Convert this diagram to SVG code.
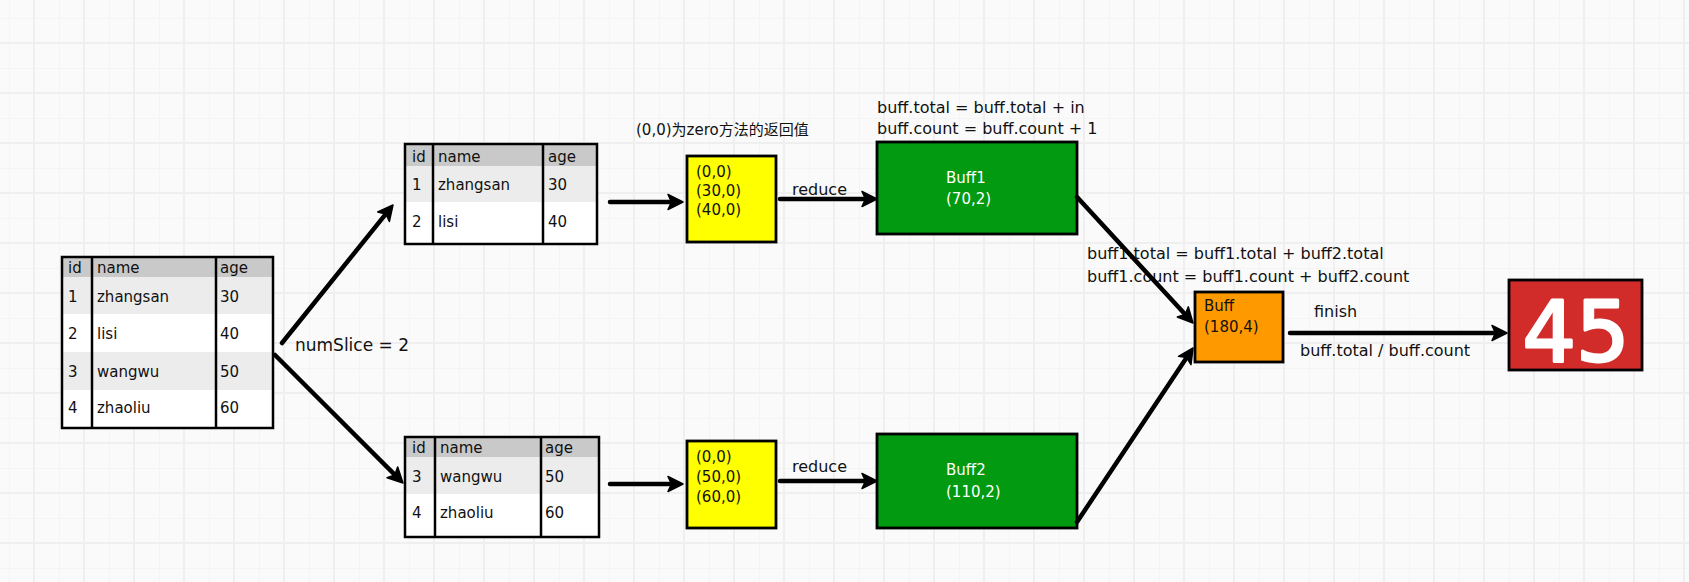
<svg xmlns="http://www.w3.org/2000/svg" width="1689" height="582" viewBox="0 0 1689 582">
<defs>
<pattern id="grid" x="9" y="18" width="50" height="50" patternUnits="userSpaceOnUse">
<rect width="50" height="50" fill="#fafafa"/>
<path d="M0,0 V50 M0,0 H50" stroke="#f3f3f3" stroke-width="1.5" fill="none"/>
<path d="M25,0 V50 M0,25 H50" stroke="#efefef" stroke-width="2" fill="none"/>
</pattern>
<marker id="ah" viewBox="0 0 18 18" markerWidth="18" markerHeight="18" refX="6" refY="9" orient="auto" markerUnits="userSpaceOnUse">
<path d="M1,1.5 L16,9 L1,16.5 L4.5,9 z" fill="#000" stroke="#000" stroke-width="1.5" stroke-linejoin="round"/>
</marker>
<style>
.t{font-family:"DejaVu Sans","Noto Sans CJK SC",sans-serif;fill:#111;}
.tb{font-family:"DejaVu Sans",sans-serif;font-size:15px;fill:#111;}
.w{fill:#ffffff;}
.hdr{fill:#c9c9c9;}
.alt{fill:#ececec;}
.wht{fill:#ffffff;}
.frame{fill:none;stroke:#000;stroke-width:2.5;}
.div{stroke:#000;stroke-width:2.5;}
.box{stroke:#000;stroke-width:2.8;}
.arrow{stroke:#000;stroke-width:4.5;fill:none;stroke-linecap:round;marker-end:url(#ah);}
</style>
</defs>
<rect width="1689" height="582" fill="url(#grid)"/>

<g id="table-main">
<rect class="hdr" x="62" y="257" width="211" height="20"/>
<rect class="alt" x="62" y="277" width="211" height="37"/>
<rect class="wht" x="62" y="314" width="211" height="38"/>
<rect class="alt" x="62" y="352" width="211" height="38"/>
<rect class="wht" x="62" y="390" width="211" height="38"/>
<line class="div" x1="92" y1="257" x2="92" y2="428"/>
<line class="div" x1="216" y1="257" x2="216" y2="428"/>
<rect class="frame" x="62" y="257" width="211" height="171"/>
<text class="tb" x="68" y="273">id</text><text class="tb" x="97" y="273">name</text><text class="tb" x="220" y="273">age</text>
<text class="tb" x="68" y="302">1</text><text class="tb" x="97" y="302">zhangsan</text><text class="tb" x="220" y="302">30</text>
<text class="tb" x="68" y="339">2</text><text class="tb" x="97" y="339">lisi</text><text class="tb" x="220" y="339">40</text>
<text class="tb" x="68" y="377">3</text><text class="tb" x="97" y="377">wangwu</text><text class="tb" x="220" y="377">50</text>
<text class="tb" x="68" y="413">4</text><text class="tb" x="97" y="413">zhaoliu</text><text class="tb" x="220" y="413">60</text>
</g>

<g id="table-top">
<rect class="hdr" x="405" y="144" width="192" height="22"/>
<rect class="alt" x="405" y="166" width="192" height="36"/>
<rect class="wht" x="405" y="202" width="192" height="42"/>
<line class="div" x1="433" y1="144" x2="433" y2="244"/>
<line class="div" x1="543" y1="144" x2="543" y2="244"/>
<rect class="frame" x="405" y="144" width="192" height="100"/>
<text class="tb" x="412" y="162">id</text><text class="tb" x="438" y="162">name</text><text class="tb" x="548" y="162">age</text>
<text class="tb" x="412" y="190">1</text><text class="tb" x="438" y="190">zhangsan</text><text class="tb" x="548" y="190">30</text>
<text class="tb" x="412" y="227">2</text><text class="tb" x="438" y="227">lisi</text><text class="tb" x="548" y="227">40</text>
</g>

<g id="table-bottom">
<rect class="hdr" x="405" y="437" width="194" height="20"/>
<rect class="alt" x="405" y="457" width="194" height="37"/>
<rect class="wht" x="405" y="494" width="194" height="43"/>
<line class="div" x1="435" y1="437" x2="435" y2="537"/>
<line class="div" x1="541" y1="437" x2="541" y2="537"/>
<rect class="frame" x="405" y="437" width="194" height="100"/>
<text class="tb" x="412" y="453">id</text><text class="tb" x="440" y="453">name</text><text class="tb" x="545" y="453">age</text>
<text class="tb" x="412" y="482">3</text><text class="tb" x="440" y="482">wangwu</text><text class="tb" x="545" y="482">50</text>
<text class="tb" x="412" y="518">4</text><text class="tb" x="440" y="518">zhaoliu</text><text class="tb" x="545" y="518">60</text>
</g>

<g id="yellow-top">
<rect class="box" x="687" y="156" width="89" height="86" fill="#ffff00"/>
<text class="t" font-size="15" x="696" y="177">(0,0)</text>
<text class="t" font-size="15" x="696" y="196">(30,0)</text>
<text class="t" font-size="15" x="696" y="215">(40,0)</text>
</g>

<g id="yellow-bottom">
<rect class="box" x="687" y="441" width="89" height="87" fill="#ffff00"/>
<text class="t" font-size="15" x="696" y="462">(0,0)</text>
<text class="t" font-size="15" x="696" y="482">(50,0)</text>
<text class="t" font-size="15" x="696" y="502">(60,0)</text>
</g>

<g id="buff1">
<rect class="box" x="877" y="142" width="200" height="92" fill="#029a10"/>
<text class="t w" font-size="15" x="946" y="183">Buff1</text>
<text class="t w" font-size="15" x="946" y="204">(70,2)</text>
</g>

<g id="buff2">
<rect class="box" x="877" y="434" width="200" height="94" fill="#029a10"/>
<text class="t w" font-size="15" x="946" y="475">Buff2</text>
<text class="t w" font-size="15" x="946" y="497">(110,2)</text>
</g>

<g id="buff">
<rect class="box" x="1195" y="292" width="88" height="70" fill="#ff9900"/>
<text class="t" font-size="15" x="1204" y="311">Buff</text>
<text class="t" font-size="15" x="1204" y="332">(180,4)</text>
</g>

<g id="result">
<rect class="box" x="1509" y="280" width="133" height="90" fill="#d12b2a"/>
<text x="1576" y="361" text-anchor="middle" font-family="DejaVu Sans, sans-serif" font-size="84" fill="#fff" stroke="#fff" stroke-width="3" stroke-linejoin="round">45</text>
</g>

<g id="labels">
<text class="t" font-size="15" x="636" y="135">(0,0)为zero方法的返回值</text>
<text class="t" font-size="16" x="877" y="113">buff.total = buff.total + in</text>
<text class="t" font-size="16" x="877" y="134">buff.count = buff.count + 1</text>
<text class="t" font-size="16" x="1087" y="259">buff1.total = buff1.total + buff2.total</text>
<text class="t" font-size="16" x="1087" y="282">buff1.count = buff1.count + buff2.count</text>
<text class="t" font-size="17" x="295" y="351">numSlice = 2</text>
<text class="t" font-size="16" x="792" y="195">reduce</text>
<text class="t" font-size="16" x="792" y="472">reduce</text>
<text class="t" font-size="16" x="1314" y="317">finish</text>
<text class="t" font-size="16" x="1300" y="356">buff.total / buff.count</text>
</g>

<g id="connectors">
<line class="arrow" x1="282" y1="343" x2="386.7" y2="212.8"/>
<line class="arrow" x1="275" y1="355" x2="395.9" y2="475.9"/>
<line class="arrow" x1="610" y1="202" x2="673" y2="202"/>
<line class="arrow" x1="610" y1="484" x2="673" y2="484"/>
<line class="arrow" x1="780" y1="199" x2="867" y2="199"/>
<line class="arrow" x1="780" y1="481" x2="867" y2="481"/>
<line class="arrow" x1="1077" y1="197" x2="1186.2" y2="315.6"/>
<line class="arrow" x1="1077" y1="522" x2="1187.5" y2="356.3"/>
<line class="arrow" x1="1290" y1="333" x2="1497" y2="333"/>
</g>
</svg>
